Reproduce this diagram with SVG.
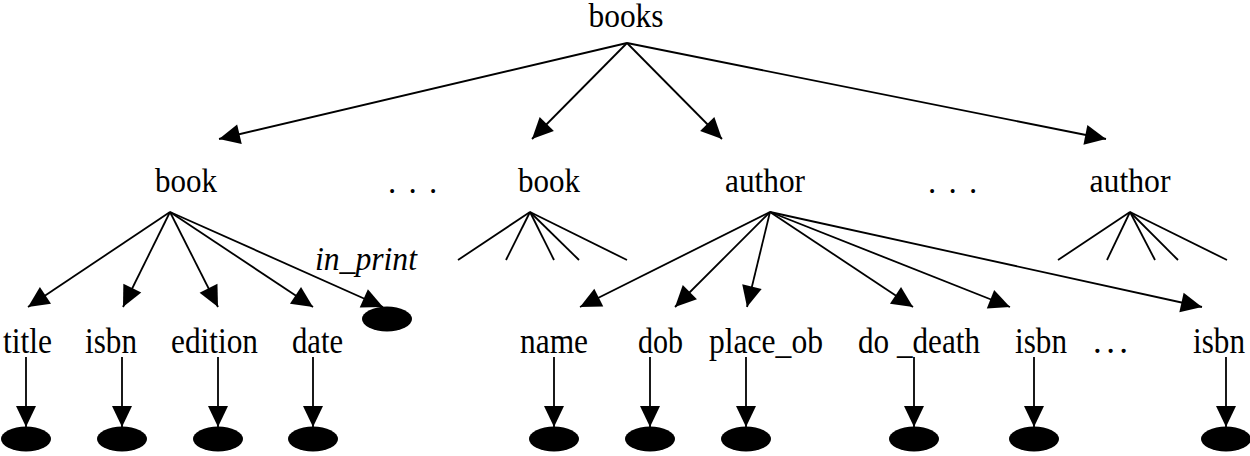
<svg xmlns="http://www.w3.org/2000/svg" width="1250" height="456" viewBox="0 0 1250 456" font-family="Liberation Serif, serif">
<style>
text{font-size:33px;fill:#000}
.c{text-anchor:middle}
.b{font-size:35px}
.it{font-style:italic}
.e{stroke:#000;stroke-width:1.8;fill:none}
.a{marker-end:url(#ah)}
.leaf{fill:#000}
</style>
<defs>
<marker id="ah" markerUnits="userSpaceOnUse" markerWidth="24" markerHeight="22" viewBox="0 -11 22 22" refX="21" refY="0" orient="auto">
<path d="M0,-10 L21,0 L0,10 z" fill="#000"/>
</marker>
</defs>
<rect width="1250" height="456" fill="#fff"/>
<g id="connectors">
<line class="e a" x1="627" y1="43" x2="219" y2="139"/>
<line class="e a" x1="627" y1="43" x2="532" y2="139"/>
<line class="e a" x1="627" y1="43" x2="722" y2="139"/>
<line class="e a" x1="627" y1="43" x2="1106" y2="139"/>
<line class="e a" x1="170" y1="212" x2="28" y2="307"/>
<line class="e a" x1="170" y1="212" x2="123" y2="307"/>
<line class="e a" x1="170" y1="212" x2="218" y2="307"/>
<line class="e a" x1="170" y1="212" x2="313" y2="307"/>
<line class="e a" x1="170" y1="212" x2="383" y2="307"/>
<line class="e" x1="530" y1="212" x2="458" y2="260"/>
<line class="e" x1="530" y1="212" x2="506" y2="260"/>
<line class="e" x1="530" y1="212" x2="554" y2="260"/>
<line class="e" x1="530" y1="212" x2="579" y2="260"/>
<line class="e" x1="530" y1="212" x2="627" y2="260"/>
<line class="e a" x1="770" y1="212" x2="580" y2="307"/>
<line class="e a" x1="770" y1="212" x2="675" y2="307"/>
<line class="e a" x1="770" y1="212" x2="747" y2="307"/>
<line class="e a" x1="770" y1="212" x2="913" y2="307"/>
<line class="e a" x1="770" y1="212" x2="1010" y2="307"/>
<line class="e a" x1="770" y1="212" x2="1202" y2="307"/>
<line class="e" x1="1130" y1="212" x2="1058" y2="260"/>
<line class="e" x1="1130" y1="212" x2="1107" y2="260"/>
<line class="e" x1="1130" y1="212" x2="1155" y2="260"/>
<line class="e" x1="1130" y1="212" x2="1178" y2="260"/>
<line class="e" x1="1130" y1="212" x2="1227" y2="260"/>
<line class="e a" x1="26" y1="357" x2="26" y2="427"/>
<line class="e a" x1="122" y1="357" x2="122" y2="427"/>
<line class="e a" x1="218" y1="357" x2="218" y2="427"/>
<line class="e a" x1="313" y1="357" x2="313" y2="427"/>
<line class="e a" x1="554" y1="357" x2="554" y2="427"/>
<line class="e a" x1="650" y1="357" x2="650" y2="427"/>
<line class="e a" x1="746" y1="357" x2="746" y2="427"/>
<line class="e a" x1="914" y1="357" x2="914" y2="427"/>
<line class="e a" x1="1034" y1="357" x2="1034" y2="427"/>
<line class="e a" x1="1226" y1="357" x2="1226" y2="427"/>
</g>
<g id="n-books"><text class="c" x="626" y="27" textLength="75" lengthAdjust="spacingAndGlyphs">books</text></g>
<g id="n-book1"><text class="c" x="186" y="192" textLength="62" lengthAdjust="spacingAndGlyphs">book</text></g>
<g id="n-dots1"><text x="388" y="193" letter-spacing="2">. . .</text></g>
<g id="n-book2"><text class="c" x="549" y="192" textLength="62" lengthAdjust="spacingAndGlyphs">book</text></g>
<g id="n-author1"><text class="c" x="765" y="192" textLength="80" lengthAdjust="spacingAndGlyphs">author</text></g>
<g id="n-dots2"><text x="928" y="193" letter-spacing="2">. . .</text></g>
<g id="n-author2"><text class="c" x="1130" y="192" textLength="81" lengthAdjust="spacingAndGlyphs">author</text></g>
<g id="n-in_print"><text class="it" x="315" y="270" textLength="102" lengthAdjust="spacingAndGlyphs">in_print</text><ellipse class="leaf" cx="387" cy="319" rx="25" ry="12.5"/></g>
<g id="n-title"><text class="b" x="3" y="353" textLength="49" lengthAdjust="spacingAndGlyphs">title</text></g>
<g id="n-isbn1"><text class="b" x="85" y="353" textLength="52" lengthAdjust="spacingAndGlyphs">isbn</text></g>
<g id="n-edition"><text class="b" x="171" y="353" textLength="87" lengthAdjust="spacingAndGlyphs">edition</text></g>
<g id="n-date"><text class="b" x="292" y="353" textLength="51" lengthAdjust="spacingAndGlyphs">date</text></g>
<g id="n-name"><text class="b" x="520" y="353" textLength="68" lengthAdjust="spacingAndGlyphs">name</text></g>
<g id="n-dob"><text class="b" x="638" y="353" textLength="45" lengthAdjust="spacingAndGlyphs">dob</text></g>
<g id="n-place_ob"><text class="b" x="709" y="353" textLength="114" lengthAdjust="spacingAndGlyphs">place_ob</text></g>
<g id="n-do_death"><text class="b" x="858" y="353" textLength="122" lengthAdjust="spacingAndGlyphs">do _death</text></g>
<g id="n-isbn2"><text class="b" x="1015" y="353" textLength="52" lengthAdjust="spacingAndGlyphs">isbn</text></g>
<g id="n-dots3"><text class="b" x="1093" y="353" textLength="35" lengthAdjust="spacing">. . .</text></g>
<g id="n-isbn3"><text class="b" x="1193" y="353" textLength="52" lengthAdjust="spacingAndGlyphs">isbn</text></g>
<g id="leaves">
<ellipse class="leaf" cx="26" cy="439" rx="25" ry="12.5"/>
<ellipse class="leaf" cx="122" cy="439" rx="25" ry="12.5"/>
<ellipse class="leaf" cx="218" cy="439" rx="25" ry="12.5"/>
<ellipse class="leaf" cx="313" cy="439" rx="25" ry="12.5"/>
<ellipse class="leaf" cx="554" cy="439" rx="25" ry="12.5"/>
<ellipse class="leaf" cx="650" cy="439" rx="25" ry="12.5"/>
<ellipse class="leaf" cx="746" cy="439" rx="25" ry="12.5"/>
<ellipse class="leaf" cx="914" cy="439" rx="25" ry="12.5"/>
<ellipse class="leaf" cx="1034" cy="439" rx="25" ry="12.5"/>
<ellipse class="leaf" cx="1226" cy="439" rx="25" ry="12.5"/>
</g>
</svg>
